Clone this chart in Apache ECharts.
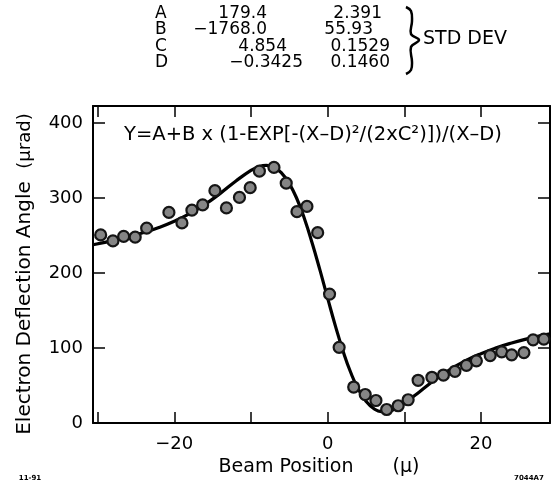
<!DOCTYPE html>
<html>
<head>
<meta charset="utf-8">
<script src="https://cdn.jsdelivr.net/npm/echarts@6/dist/echarts.min.js"></script>
<style>html,body{margin:0;padding:0;background:#fff}#c{width:554px;height:487px}</style>
</head>
<body>
<div id="c"></div>
<script>
// ---- data ----
const pointX = [-29.6,-28.0,-26.6,-25.1,-23.6,-20.7,-19.0,-17.7,-16.3,-14.7,-13.2,-11.5,-10.1,-8.9,-7.0,-5.4,-4.0,-2.7,-1.3,0.25,1.5,3.4,4.9,6.3,7.7,9.2,10.5,11.8,13.6,15.1,16.6,18.1,19.4,21.2,22.7,24.0,25.6,26.8,28.2];
const pointY = [251,243,249,248,260,281,267,284,291,310,287,301,314,336,341,320,282,289,254,172,101,48,38,30,18,23,31,57,61,64,69,77,83,90,95,91,94,111,112];
const curveX = [-30.6,-28,-26,-24,-22,-20,-18,-16,-14,-12,-10,-9,-8,-7,-6,-5,-4,-3,-2,-1,-0.5,0,1,2,3,4,5,6,7,8,9,10,12,14,16,18,20,22,24,26,28,29];
const curveY = [237.8,243.3,248.3,254.1,261.0,269.3,279.4,291.7,306.4,322.6,337.2,342.0,343.8,341.3,333.5,319.4,298.9,272.0,239.5,204.0,185.3,166.6,130.0,96.4,67.7,45.1,29.1,19.4,15.3,15.9,19.8,26.1,41.8,57.7,71.6,83.1,92.5,100.3,106.8,112.3,117.0,119.1];
const xTicks = [-30,-20,-10,0,10,20];
const xTickLabels = [-20,0,20];
const yTicks = [0,100,200,300,400];
const paramNames = ['A','B','C','D'];
const paramValues = ['179.4','\u22121768.0','4.854','\u22120.3425'];
const stdDevValues = ['2.391','55.93','0.1529','0.1460'];
const formulaText = 'Y=A+B x (1-EXP[-(X\u2013D)\u00b2/(2xC\u00b2)])/(X\u2013D)';
const yTitle = 'Electron Deflection Angle';
const yUnit = '(\u03bcrad)';
const xTitle = 'Beam Position';
const xUnit = '(\u03bc)';
const braceLabel = 'STD DEV';
const leftNote = '11-91';
const rightNote = '7044A7';

// ---- layout ----
const FONT = 'DejaVu Sans';
const rowY = [14, 30, 47, 63];
const valRight = [267, 267, 287, 303];
const sdRight = [382, 373, 390, 390];

const points = pointX.map((x, i) => [x, pointY[i]]);
const curve = curveX.map((x, i) => [x, curveY[i]]);

function txt(x, y, text, font, align, extra) {
  return Object.assign({type:'text', x:x, y:y, silent:true,
    style:{text:text, font:font, fill:'#000', textAlign:align || 'left', textVerticalAlign:'middle'}}, extra || {});
}
const f17 = '17px "' + FONT + '"';
const graphics = [];
paramNames.forEach((n, i) => {
  graphics.push(txt(155, rowY[i], n, f17, 'left'));
  graphics.push(txt(valRight[i], rowY[i], paramValues[i], f17, 'right'));
  graphics.push(txt(sdRight[i], rowY[i], stdDevValues[i], f17, 'right'));
});
graphics.push({type:'polyline', silent:true,
  shape:{points:[[406,7],[411,11],[412,21],[411,34],[419,40],[411,47],[412,62],[411,70],[406,74]], smooth:0.4},
  style:{stroke:'#000', lineWidth:2.5, fill:null}});
graphics.push(txt(423, 39, braceLabel, '19px "' + FONT + '"', 'left'));
graphics.push(txt(313, 135, formulaText, '19.5px "' + FONT + '"', 'center'));
graphics.push(txt(25, 308, yTitle, '20px "' + FONT + '"', 'center', {rotation:Math.PI/2}));
graphics.push(txt(25, 141, yUnit, '18px "' + FONT + '"', 'center', {rotation:Math.PI/2}));
graphics.push(txt(286, 467, xTitle, '19px "' + FONT + '"', 'center'));
graphics.push(txt(406, 467, xUnit, '19px "' + FONT + '"', 'center'));
graphics.push(txt(30, 478, leftNote, 'bold 7px "' + FONT + '"', 'center'));
graphics.push(txt(529, 478, rightNote, 'bold 7px "' + FONT + '"', 'center'));

const axLine = {show:true, onZero:false, lineStyle:{color:'#000', width:2}};
const tickStyle = {color:'#000', width:1.5};
const fmtX = v => (v < 0 ? '\u2212' + Math.abs(v) : String(v));

const option = {
  animation: false,
  backgroundColor: '#fff',
  grid: {left:93, right:4, top:106, bottom:64, containLabel:false},
  xAxis: [
    {type:'value', min:-30.6, max:29, position:'bottom', axisLine:axLine,
     axisTick:{show:true, inside:true, length:11, customValues:xTicks, lineStyle:tickStyle},
     axisLabel:{show:true, customValues:xTickLabels, formatter:fmtX, color:'#000', fontFamily:FONT, fontSize:18, margin:12},
     splitLine:{show:false}},
    {type:'value', min:-30.6, max:29, position:'top', axisLine:axLine,
     axisTick:{show:true, inside:true, length:11, customValues:xTicks, lineStyle:tickStyle},
     axisLabel:{show:false}, splitLine:{show:false}}
  ],
  yAxis: [
    {type:'value', min:0, max:423, position:'left', axisLine:axLine,
     axisTick:{show:true, inside:true, length:12, customValues:yTicks, lineStyle:tickStyle},
     axisLabel:{show:true, customValues:yTicks, color:'#000', fontFamily:FONT, fontSize:18, margin:10},
     splitLine:{show:false}},
    {type:'value', min:0, max:423, position:'right', axisLine:axLine,
     axisTick:{show:true, inside:true, length:12, customValues:yTicks, lineStyle:tickStyle},
     axisLabel:{show:false}, splitLine:{show:false}}
  ],
  series: [
    {type:'line', data:curve, smooth:true, showSymbol:false, symbol:'none', lineStyle:{color:'#000', width:3.2}, z:2},
    {type:'scatter', data:points, symbol:'circle', symbolSize:11, itemStyle:{color:'#858585', borderColor:'#151515', borderWidth:2.2, opacity:1}, z:3}
  ],
  graphic: graphics
};

const chart = echarts.init(document.getElementById('c'), null, {renderer:'canvas'});
chart.setOption(option);
</script>
</body>
</html>
